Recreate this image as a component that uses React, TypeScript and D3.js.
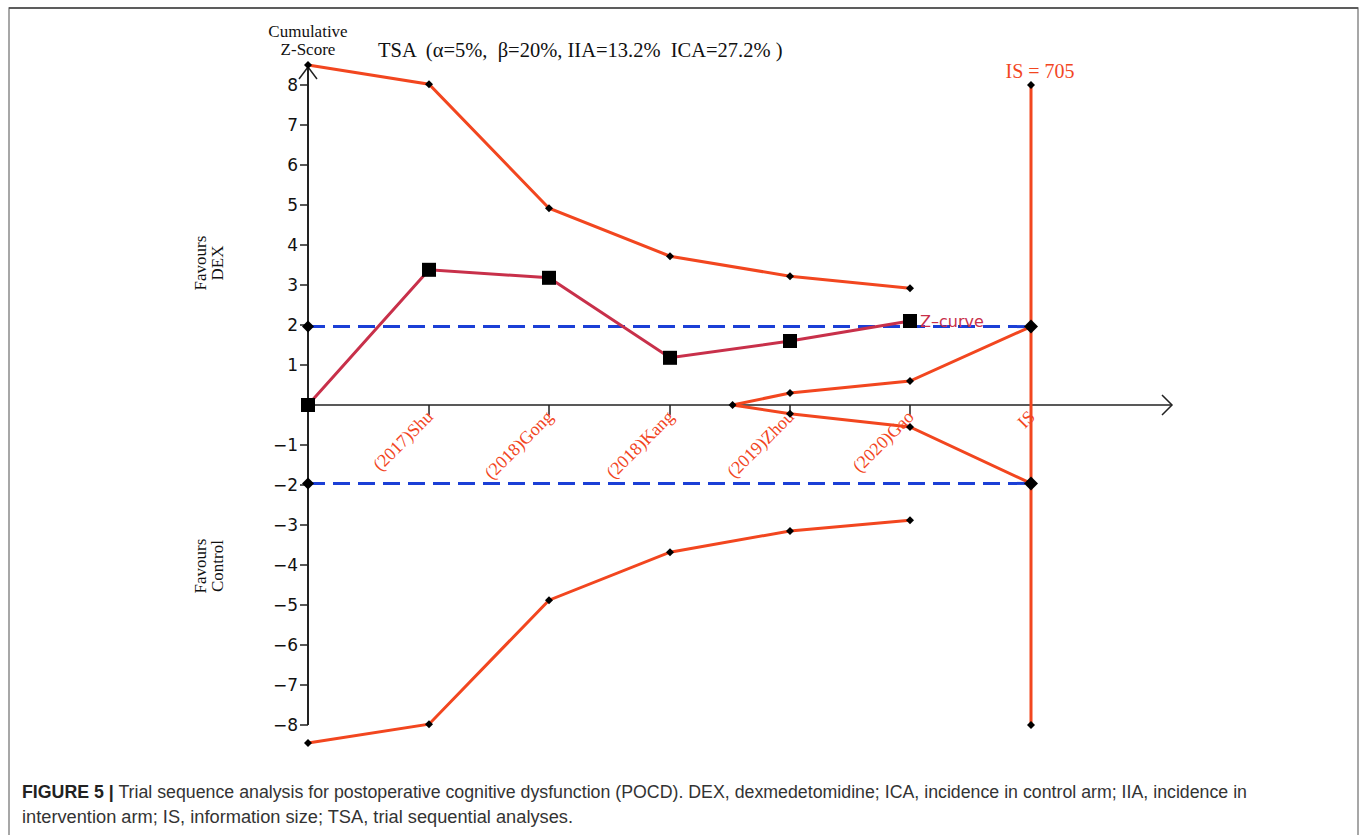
import React from 'react'
import * as d3 from 'd3'

// cumulative information (patients) and study labels
const studies = ['(2017)Shu', '(2018)Gong', '(2018)Kang', '(2019)Zhou', '(2020)Gao']
const infoAt = [118, 235, 353, 470, 587]
const infoSize = 705

// cumulative z-curve (first point = origin)
const zInfo = [0, 118, 235, 353, 470, 587]
const zValues = [0, 3.38, 3.18, 1.18, 1.6, 2.1]

// O'Brien-Fleming type monitoring boundaries
const boundInfo = [0, 118, 235, 353, 470, 587]
const upperBound = [8.5, 8.02, 4.92, 3.72, 3.22, 2.92]
const lowerBound = [-8.45, -7.98, -4.88, -3.68, -3.15, -2.88]

// futility wedge
const futInfo = [414, 470, 587, 705]
const futUpper = [0, 0.3, 0.6, 1.96]
const futLower = [0, -0.22, -0.55, -1.96]

const yTicks = [-8, -7, -6, -5, -4, -3, -2, -1, 1, 2, 3, 4, 5, 6, 7, 8]
const conventional = [1.96, -1.96]

const RED = '#f2461f'
const ZRED = '#c8304a'
const BLUE = '#1b3fd6'
const serif = '"Liberation Serif", "Times New Roman", serif'
const sans = '"DejaVu Sans", Verdana, sans-serif'
const capFont = '"Liberation Sans", Arial, sans-serif'

export default function App() {
  const x = d3.scaleLinear().domain([0, infoSize]).range([308, 1031])
  const y = d3.scaleLinear().domain([-8, 8]).range([725, 85])

  const line = d3.line<[number, number]>().x(d => x(d[0])).y(d => y(d[1]))
  const zip = (a: number[], b: number[]) => a.map((v, i) => [v, b[i]] as [number, number])

  const diamond = (cx: number, cy: number, r: number, key: string) => (
    <path key={key} d={`M${cx},${cy - r}L${cx + r},${cy}L${cx},${cy + r}L${cx - r},${cy}Z`} fill="#000" />
  )

  const x0 = x(0), yZero = y(0)

  return (
    <svg width={1360} height={835} style={{ position: 'absolute', left: 0, top: 0, background: '#fff' }}>
      {/* frame */}
      <rect x={9} y={8} width={1349} height={834} fill="none" stroke="#8a8a8a" strokeWidth={1.5} />
      <line x1={9} x2={1358} y1={8} y2={8} stroke="#444" strokeWidth={1.5} />

      {/* y axis */}
      <line x1={x0} x2={x0} y1={y(-8)} y2={66} stroke="#222" strokeWidth={2} />
      <path d={`M${x0 - 9},${79}L${x0},${67}L${x0 + 9},${79}`} fill="none" stroke="#222" strokeWidth={1.5} />
      {yTicks.map(t => (
        <g key={t}>
          <line x1={x0 - 8} x2={x0} y1={y(t)} y2={y(t)} stroke="#222" strokeWidth={1.5} />
          <text x={x0 - 10} y={y(t)} dy="0.36em" textAnchor="end" fontFamily={sans} fontSize={17} fill="#111">
            {t < 0 ? '\u2212' + Math.abs(t) : t}
          </text>
        </g>
      ))}

      {/* x axis */}
      <line x1={x0} x2={1172} y1={yZero} y2={yZero} stroke="#222" strokeWidth={1.5} />
      <path d={`M1162,${yZero - 10}L1172,${yZero}L1162,${yZero + 10}`} fill="none" stroke="#222" strokeWidth={1.5} />
      {[...infoAt, infoSize].map((v, i) => (
        <line key={i} x1={x(v)} x2={x(v)} y1={yZero} y2={yZero + 10} stroke="#222" strokeWidth={1.5} />
      ))}
      {[...studies, 'IS'].map((s, i) => {
        const v = i < studies.length ? infoAt[i] : infoSize
        return (
          <text key={s} transform={`translate(${x(v) + 5},${yZero + 13}) rotate(-45)`} textAnchor="end"
            fontFamily={serif} fontSize={18} fill={RED}>{s}</text>
        )
      })}

      {/* conventional boundaries */}
      {conventional.map(c => (
        <line key={c} x1={x0} x2={x(infoSize)} y1={y(c)} y2={y(c)} stroke={BLUE} strokeWidth={3} strokeDasharray="17 8" />
      ))}

      {/* IS line */}
      <line x1={x(infoSize)} x2={x(infoSize)} y1={y(8)} y2={y(-8)} stroke={RED} strokeWidth={3} />
      {diamond(x(infoSize), y(8), 4, 'ist')}
      {diamond(x(infoSize), y(-8), 4, 'isb')}
      <text x={x(infoSize) + 9} y={78} textAnchor="middle" fontFamily={serif} fontSize={20} fill={RED}>IS = 705</text>

      {/* monitoring boundaries */}
      <path d={line(zip(boundInfo, upperBound)) || ''} fill="none" stroke={RED} strokeWidth={3} />
      <path d={line(zip(boundInfo, lowerBound)) || ''} fill="none" stroke={RED} strokeWidth={3} />
      <path d={line(zip(futInfo, futUpper)) || ''} fill="none" stroke={RED} strokeWidth={3} />
      <path d={line(zip(futInfo, futLower)) || ''} fill="none" stroke={RED} strokeWidth={3} />
      {boundInfo.map((v, i) => diamond(x(v), y(upperBound[i]), 4, 'u' + i))}
      {boundInfo.map((v, i) => diamond(x(v), y(lowerBound[i]), 4, 'l' + i))}
      {futInfo.slice(0, 3).map((v, i) => diamond(x(v), y(futUpper[i]), 4, 'fu' + i))}
      {futInfo.slice(1, 3).map((v, i) => diamond(x(v), y(futLower[i + 1]), 4, 'fl' + i))}

      {/* big diamonds at ±1.96 */}
      {conventional.map(c => diamond(x0, y(c), 6, 'a' + c))}
      {conventional.map(c => diamond(x(infoSize), y(c), 7, 'b' + c))}

      {/* z-curve */}
      <path d={line(zip(zInfo, zValues)) || ''} fill="none" stroke={ZRED} strokeWidth={3} />
      {zInfo.map((v, i) => (
        <rect key={'z' + i} x={x(v) - 7} y={y(zValues[i]) - 7} width={14} height={14} fill="#000" />
      ))}
      <text x={x(zInfo[zInfo.length - 1]) + 10} y={y(zValues[zValues.length - 1]) + 6} fontFamily={sans} fontSize={16} fill={ZRED}>Z–curve</text>

      {/* titles */}
      <text x={x0} y={37} textAnchor="middle" fontFamily={serif} fontSize={17} fill="#111">Cumulative</text>
      <text x={x0} y={55} textAnchor="middle" fontFamily={serif} fontSize={17} fill="#111">Z-Score</text>
      <text x={378} y={57} fontFamily={serif} fontSize={20.5} fill="#111" style={{ whiteSpace: 'pre' }}>{'TSA  (α=5%,  β=20%, IIA=13.2%  ICA=27.2% )'}</text>

      <g transform="translate(206,263) rotate(-90)">
        <text x={0} y={0} textAnchor="middle" fontFamily={serif} fontSize={17} fill="#111">Favours</text>
        <text x={0} y={17} textAnchor="middle" fontFamily={serif} fontSize={17} fill="#111">DEX</text>
      </g>
      <g transform="translate(206,566) rotate(-90)">
        <text x={0} y={0} textAnchor="middle" fontFamily={serif} fontSize={17} fill="#111">Favours</text>
        <text x={0} y={17} textAnchor="middle" fontFamily={serif} fontSize={17} fill="#111">Control</text>
      </g>

      {/* caption */}
      <text x={22} y={798} fontFamily={capFont} fontSize={17.5} fill="#333" textLength={1225} lengthAdjust="spacingAndGlyphs">
        <tspan fontWeight="bold" fill="#222">FIGURE 5 |</tspan>
        <tspan> Trial sequence analysis for postoperative cognitive dysfunction (POCD). DEX, dexmedetomidine; ICA, incidence in control arm; IIA, incidence in</tspan>
      </text>
      <text x={22} y={823} fontFamily={capFont} fontSize={17.5} fill="#333" textLength={551} lengthAdjust="spacingAndGlyphs">
        intervention arm; IS, information size; TSA, trial sequential analyses.
      </text>
    </svg>
  )
}
